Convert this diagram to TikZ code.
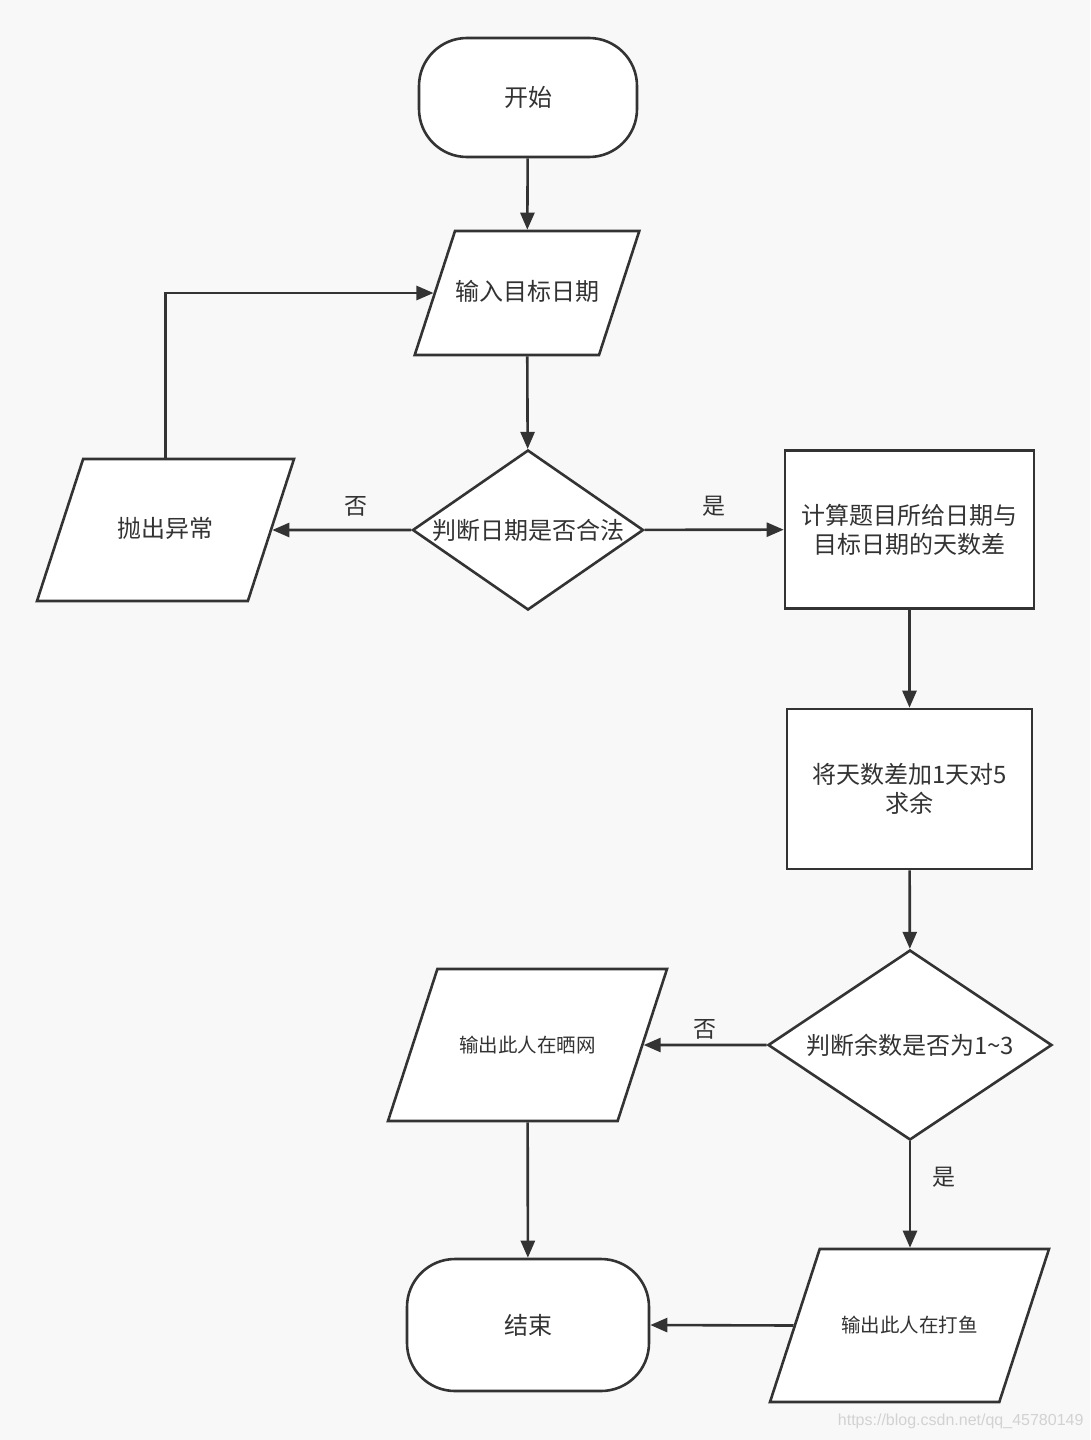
\documentclass[tikz,border=0pt]{standalone}
\usepackage{fontspec}
\newfontfamily\cjk{Noto Sans CJK SC}
\newfontfamily\wmfont{Liberation Sans}
\usetikzlibrary{arrows.meta,shapes.geometric}
\definecolor{LineClr}{HTML}{333333}
\definecolor{BackClr}{HTML}{F8F8F8}

\begin{document}
\begin{tikzpicture}[x=1pt,y=-1pt,
  base/.style={draw=LineClr,line width=2.6pt,fill=white,text=LineClr,
    font=\cjk\fontsize{24}{29}\selectfont,align=center},
  term/.style={base,rectangle,rounded corners=48pt,minimum width=218pt,minimum height=119pt},
  io/.style={base,trapezium,trapezium left angle=72,trapezium right angle=108,
    trapezium stretches body,inner xsep=0pt,text height=17pt,text depth=3pt},
  proc/.style={base,rectangle,minimum width=249pt,minimum height=158pt},
  decide/.style={base,diamond,inner sep=0pt},
  small/.style={font=\cjk\fontsize{19.5}{24}\selectfont},
  every label/.style={text=LineClr,font=\cjk\fontsize{24}{29}\selectfont},
  tag/.style={text=LineClr,inner sep=0pt,font=\cjk\fontsize{23}{29}\selectfont},
  arr/.style={draw=LineClr,line width=2.6pt,-{Triangle[length=17pt,width=14pt]}}]

\fill[BackClr] (0,0) rectangle (1090,1440);
\useasboundingbox (0,0) rectangle (1090,1440);

\node[term] (start) at (528,97.5) {开始};
\node[io,inner ysep=52pt,minimum width=222pt] (in) at (527,293) {输入目标日期};
\node[decide,minimum width=231pt,minimum height=160pt,
  label=center:{判断日期是否合法}] (chk) at (528,530) {};
\node[io,inner ysep=61pt,minimum width=257pt] (err) at (165.5,530) {抛出异常};
\node[proc] (diff) at (909.5,529.5) {计算题目所给日期与\\目标日期的天数差};
\node[proc,minimum width=245pt,minimum height=160pt] (mod) at (909.5,789) {将天数差加1天对5\\求余};
\node[decide,minimum width=284pt,minimum height=190pt,
  label=center:{判断余数是否为1\textasciitilde3}] (rem) at (910,1045) {};
\node[io,small,inner ysep=66pt,minimum width=279pt] (sun) at (527.5,1045) {输出此人在晒网};
\node[io,small,inner ysep=66.5pt,minimum width=279pt] (fish) at (909.5,1325.5) {输出此人在打鱼};
\node[term,minimum width=242pt,minimum height=132pt] (stop) at (528,1325) {结束};

\draw[arr] (start) -- (in);
\draw[arr] (in) -- (chk);
\draw[arr] (chk) -- node[tag,pos=0.4,above=12pt] {否} (err);
\draw[arr] (chk) -- node[tag,above=12pt] {是} (diff);
\draw[arr] (err.center |- err.north) |- (in.west);
\draw[arr] (diff) -- (mod);
\draw[arr] (mod) -- (rem);
\draw[arr] (rem.west) -- node[tag,above=4pt] {否} (sun.east);
\draw[arr] (rem.south) -- node[tag,pos=0.34,right=21pt] {是} (rem.south |- fish.north);
\draw[arr] (sun) -- (stop);
\draw[arr] (fish.west) -- (stop.east);

\node[anchor=east,text=gray!35,font=\wmfont\fontsize{16}{18}\selectfont] (mark) at (1087,1421)
  {https://blog.csdn.net/qq\_45780149};

\end{tikzpicture}
\end{document}
